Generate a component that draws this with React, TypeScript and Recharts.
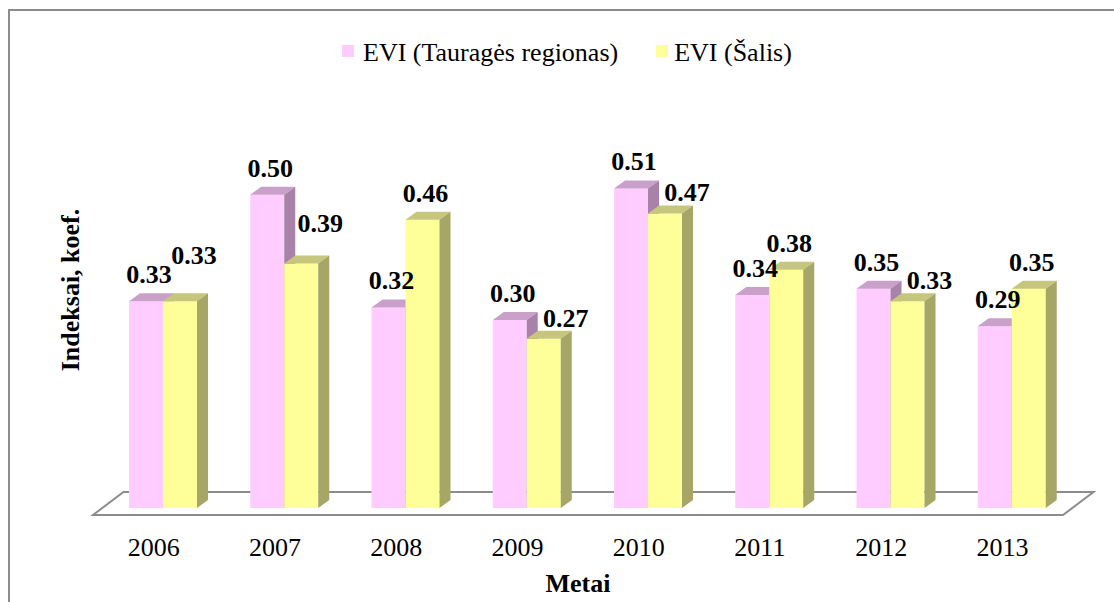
import React from 'react';
import { BarChart, Bar, XAxis, YAxis, Legend, LabelList } from 'recharts';

const years = ['2006', '2007', '2008', '2009', '2010', '2011', '2012', '2013'];
const tauragesValues = [0.33, 0.5, 0.32, 0.3, 0.51, 0.34, 0.35, 0.29];
const salisValues = [0.33, 0.39, 0.46, 0.27, 0.47, 0.38, 0.33, 0.35];
const seriesNames = ['EVI (Tauragės regionas)', 'EVI (Šalis)'];
const xTitle = 'Metai';
const yTitle = 'Indeksai, koef.';

const data = years.map((year, i) => ({ year, taurages: tauragesValues[i], salis: salisValues[i] }));

const W = 1114;
const H = 602;
const FONT = '"Liberation Serif", "Times New Roman", Times, serif';
const LEGEND_H = 30;
const X_AXIS_H = 30;
const MARGIN = { top: 139 - LEGEND_H, right: 51, bottom: 602 - 515 - X_AXIS_H, left: 93 };
const PLOT_BOTTOM = H - MARGIN.bottom - X_AXIS_H;
const PLOT_LEFT = MARGIN.left;
const PLOT_RIGHT = W - MARGIN.right;
const SHIFT = { x: 9, y: 7 };
const DEPTH = { x: 11, y: 8 };
const FLOOR_DEPTH = { x: 30.5, y: 23 };
const GRID = '#8c8c8c';

const PINK = { front: '#FFCCFF', top: '#C9A0C9', side: '#A982A9' };
const YELLOW = { front: '#FFFF99', top: '#C6C67C', side: '#A6A666' };

const make3D = (c: { front: string; top: string; side: string }) => (props: any) => {
  const { x, y, width, height } = props;
  if (width == null || height == null) return null;
  const x0 = x + SHIFT.x;
  const y0 = y - SHIFT.y;
  const dx = DEPTH.x;
  const dy = DEPTH.y;
  const top = `${x0},${y0} ${x0 + dx},${y0 - dy} ${x0 + width + dx},${y0 - dy} ${x0 + width},${y0}`;
  const side = `${x0 + width},${y0} ${x0 + width + dx},${y0 - dy} ${x0 + width + dx},${y0 + height - dy} ${x0 + width},${y0 + height}`;
  return (
    <g>
      <rect x={x0} y={y0} width={width} height={height} fill={c.front} />
      <polygon points={top} fill={c.top} />
      <polygon points={side} fill={c.side} />
    </g>
  );
};

const pinkShape = make3D(PINK);
const yellowShape = make3D(YELLOW);

const labelStyle = { fontFamily: FONT, fontSize: 26, fontWeight: 700, fill: '#000' } as const;

const pinkLabel = (props: any) => {
  const { x, y, width, value } = props;
  const cx = x + SHIFT.x + width / 2 + 3;
  const by = y - SHIFT.y - 18;
  return (
    <text x={cx} y={by} textAnchor="middle" style={labelStyle}>
      {Number(value).toFixed(2)}
    </text>
  );
};

const yellowLabel = (props: any) => {
  const { x, y, width, value, index } = props;
  const other = tauragesValues[index];
  let ox = 3;
  let oy = -18;
  if (other - value > 0.08) {
    ox = 19;
    oy = -32;
  } else if (other > value) {
    ox = 22;
    oy = -12;
  } else if (other === value) {
    ox = 14;
    oy = -37;
  }
  const cx = x + SHIFT.x + width / 2 + ox;
  const by = y - SHIFT.y + oy;
  return (
    <text x={cx} y={by} textAnchor="middle" style={labelStyle}>
      {Number(value).toFixed(2)}
    </text>
  );
};

const YearTick = (props: any) => {
  const { x, payload } = props;
  return (
    <text x={x} y={PLOT_BOTTOM + 41} textAnchor="middle" style={{ fontFamily: FONT, fontSize: 26, fill: '#000' }}>
      {payload.value}
    </text>
  );
};

const renderLegend = () => {
  const colors = [PINK.front, YELLOW.front];
  return (
    <div
      style={{
        display: 'flex',
        alignItems: 'center',
        height: LEGEND_H,
        lineHeight: `${LEGEND_H}px`,
        paddingLeft: 342,
        fontFamily: FONT,
        fontSize: 26,
        color: '#000',
      }}
    >
      {seriesNames.map((n, i) => (
        <div key={n} style={{ display: 'flex', alignItems: 'center', marginRight: i === 0 ? 38 : 0 }}>
          <div style={{ width: 12, height: 12, background: colors[i], marginRight: i === 0 ? 9 : 6, marginTop: -4 }} />
          <span>{n}</span>
        </div>
      ))}
    </div>
  );
};

const xLabel = (props: any) => {
  const { viewBox } = props;
  const cx = viewBox.x + viewBox.width / 2;
  return (
    <text x={cx} y={592} textAnchor="middle" style={{ fontFamily: FONT, fontSize: 26, fontWeight: 700, fill: '#000' }}>
      {xTitle}
    </text>
  );
};

export default function App() {
  const floor = `${PLOT_LEFT},${PLOT_BOTTOM} ${PLOT_LEFT + FLOOR_DEPTH.x},${PLOT_BOTTOM - FLOOR_DEPTH.y} ${PLOT_RIGHT + FLOOR_DEPTH.x},${PLOT_BOTTOM - FLOOR_DEPTH.y} ${PLOT_RIGHT},${PLOT_BOTTOM}`;
  return (
    <div style={{ position: 'absolute', left: 0, top: 0, width: W, height: H, background: '#fff', overflow: 'hidden' }}>
      <svg width={W} height={H} style={{ position: 'absolute', left: 0, top: 0 }}>
        <path d={`M9,${H + 5} V10 H${W + 5}`} fill="none" stroke={GRID} strokeWidth={2} />
        <polygon points={floor} fill="#fff" stroke={GRID} strokeWidth={2} strokeLinejoin="miter" />
        <text
          x={79}
          y={290}
          transform="rotate(-90, 79, 290)"
          textAnchor="middle"
          style={{ fontFamily: FONT, fontSize: 26, fontWeight: 700, fill: '#000' }}
        >
          {yTitle}
        </text>
      </svg>
      <div style={{ position: 'absolute', left: 0, top: 0 }}>
        <BarChart width={W} height={H} data={data} margin={MARGIN} barGap={0} barSize={34}>
          <XAxis
            dataKey="year"
            axisLine={false}
            tickLine={false}
            interval={0}
            height={X_AXIS_H}
            tick={<YearTick />}
            label={xLabel}
          />
          <YAxis hide domain={[0, 0.6]} />
          <Legend verticalAlign="top" content={renderLegend} wrapperStyle={{ top: 38, left: 0, width: W }} />
          <Bar dataKey="taurages" name={seriesNames[0]} fill={PINK.front} shape={pinkShape} isAnimationActive={false}>
            <LabelList dataKey="taurages" content={pinkLabel} />
          </Bar>
          <Bar dataKey="salis" name={seriesNames[1]} fill={YELLOW.front} shape={yellowShape} isAnimationActive={false}>
            <LabelList dataKey="salis" content={yellowLabel} />
          </Bar>
        </BarChart>
      </div>
    </div>
  );
}
